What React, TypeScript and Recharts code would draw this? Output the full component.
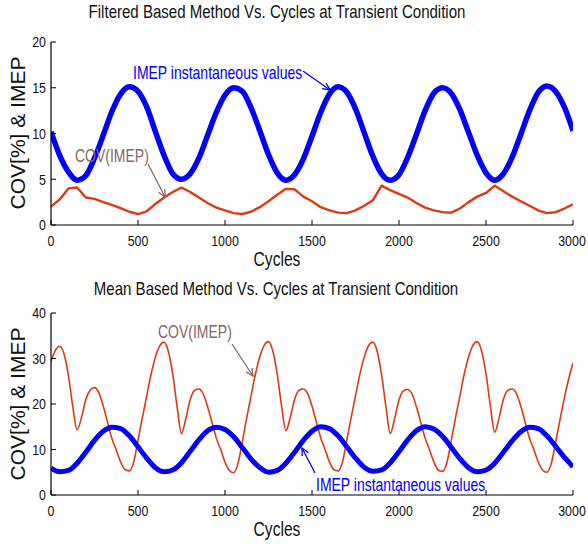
import { Line, LineChart, XAxis, YAxis } from "recharts";

const FONT = "'Liberation Sans', Arial, sans-serif";
const SQUEEZE = 0.8; // reference uses a narrow Helvetica

const cycleTicks = [0, 500, 1000, 1500, 2000, 2500, 3000];
const filteredTicks = [0, 5, 10, 15, 20];
const meanTicks = [0, 10, 20, 30, 40];

// top panel, read every 50 cycles (0..3000)
const filteredImep = [
  10.2, 7.6, 5.8, 4.9, 5.4, 7.3, 9.8, 12.4, 14.3, 15.1, 14.6, 12.9,
  10.2, 7.6, 5.6, 5.0, 5.6, 7.3, 9.8, 12.3, 14.2, 15.0, 14.6, 12.8,
  10.3, 7.7, 5.7, 4.9, 5.5, 7.2, 9.7, 12.3, 14.3, 15.1, 14.5, 12.7,
  10.1, 7.5, 5.6, 4.9, 5.5, 7.4, 9.9, 12.5, 14.4, 15.0, 14.4, 12.6,
  10.1, 7.6, 5.7, 4.9, 5.6, 7.4, 9.9, 12.5, 14.5, 15.2, 14.6, 12.9,
  10.3,
];
const filteredCov = [
  2.0, 2.8, 4.0, 4.1, 3.0, 2.85, 2.5, 2.2, 1.85, 1.45, 1.2, 1.5,
  2.3, 3.0, 3.6, 4.1, 3.6, 3.0, 2.4, 1.9, 1.6, 1.3, 1.2, 1.45,
  1.95, 2.6, 3.3, 3.95, 3.9, 3.1, 2.6, 1.95, 1.6, 1.35, 1.3, 1.6,
  2.1, 2.7, 4.3, 3.8, 3.4, 3.0, 2.4, 1.9, 1.6, 1.4, 1.35, 1.8,
  2.5, 3.1, 3.5, 4.3, 3.7, 3.1, 2.6, 2.1, 1.6, 1.3, 1.4, 1.8,
  2.25,
];

// bottom panel, IMEP read every 50 cycles
const meanImep = [
  5.9, 5.1, 5.4, 7.0, 9.4, 12.0, 14.0, 14.9, 14.6, 13.0, 10.6, 8.1,
  6.0, 5.1, 5.5, 7.1, 9.6, 12.1, 14.1, 14.9, 14.4, 12.8, 10.4, 7.9,
  6.0, 5.0, 5.4, 7.0, 9.4, 12.0, 14.0, 15.0, 14.6, 13.0, 10.6, 8.1,
  6.1, 5.2, 5.5, 7.1, 9.5, 12.1, 14.1, 15.0, 14.5, 12.9, 10.5, 8.0,
  6.0, 5.1, 5.5, 7.0, 9.4, 11.9, 13.9, 14.9, 14.6, 13.0, 10.7, 8.3,
  6.2,
];
// bottom panel, COV read every 25 cycles
const meanCov = [
  29.3, 31.8,
  32.7, 31.0, 26.3, 19.5, 14.3, 17.0, 21.0, 23.0, 23.6, 22.5, 19.6, 16.0,
  12.4, 9.9, 7.3, 5.6, 5.3, 7.2, 12.0, 17.0, 21.8, 26.5, 30.3, 32.8,
  33.6, 31.5, 26.5, 19.3, 13.5, 16.8, 21.0, 23.0, 23.3, 22.2, 19.4, 16.0,
  12.5, 10.0, 7.2, 5.4, 4.9, 7.0, 11.8, 17.0, 21.8, 26.6, 30.4, 32.9,
  33.7, 31.6, 26.6, 19.6, 14.1, 17.0, 21.0, 23.0, 23.3, 22.3, 19.5, 16.1,
  12.6, 10.0, 7.3, 5.6, 5.3, 7.2, 12.0, 17.0, 21.8, 26.5, 30.3, 32.8,
  33.6, 31.5, 26.4, 19.4, 13.5, 16.8, 20.9, 22.9, 23.2, 22.2, 19.4, 16.0,
  12.5, 10.0, 7.3, 5.5, 5.2, 7.1, 11.9, 17.0, 21.8, 26.6, 30.4, 32.9,
  33.7, 31.6, 26.6, 19.6, 13.8, 16.9, 21.0, 23.0, 23.3, 22.3, 19.5, 16.0,
  12.5, 10.0, 7.3, 5.5, 5.0, 6.9, 11.6, 16.5, 21.3, 25.5, 29.0,
];

const toRows = (values: number[], step: number) =>
  values.map((value, i) => ({ cycle: i * step, value }));

const BLUE = "#0000ff";
const RED = "#de3a12";
const BROWN = "#8c6464";

// narrow text: scale horizontally around the anchor point
function Narrow({ x, y, size, anchor = "start", fill = "#111", dy, children }: any) {
  return (
    <text transform={`translate(${x},${y}) scale(${SQUEEZE},1)`} fontSize={size} fontFamily={FONT}
      textAnchor={anchor} fill={fill} dy={dy}>
      {children}
    </text>
  );
}

const XTick = (props: any) => (
  <Narrow x={props.x} y={props.y} size={15.5} anchor="middle" dy="0.71em">{props.payload.value}</Narrow>
);
const YTick = (props: any) => (
  <Narrow x={props.x} y={props.y} size={15.5} anchor="end" dy="0.35em">{props.payload.value}</Narrow>
);

type PanelProps = {
  top: number;
  yMax: number;
  yTicks: number[];
  imep: { cycle: number; value: number }[];
  cov: { cycle: number; value: number }[];
  imepWidth: number;
  covWidth: number;
  covType: "linear" | "monotone";
  marginTop: number;
  marginBottom: number;
};

function Panel(p: PanelProps) {
  const axisLine = { stroke: "#000", strokeWidth: 1.2 };
  return (
    <div style={{ position: "absolute", left: 0, top: p.top }}>
      <LineChart width={588} height={272} margin={{ top: p.marginTop, right: 15, bottom: p.marginBottom, left: 0 }}>
        <XAxis type="number" dataKey="cycle" domain={[0, 3000]} ticks={cycleTicks} height={30}
          tickSize={-5} tickMargin={15} tick={XTick} axisLine={axisLine} tickLine={{ stroke: "#000" }} allowDataOverflow />
        <XAxis xAxisId="top" orientation="top" type="number" dataKey="cycle" domain={[0, 3000]} ticks={cycleTicks}
          height={0} tickSize={-5} tick={false} axisLine={axisLine} tickLine={{ stroke: "#000" }} allowDataOverflow />
        <YAxis type="number" domain={[0, p.yMax]} ticks={p.yTicks} width={51} tickSize={-5} tickMargin={10}
          tick={YTick} axisLine={axisLine} tickLine={{ stroke: "#000" }} allowDataOverflow />
        <YAxis yAxisId="right" orientation="right" type="number" domain={[0, p.yMax]} ticks={p.yTicks} width={0}
          tickSize={-5} tick={false} axisLine={axisLine} tickLine={{ stroke: "#000" }} allowDataOverflow />
        <Line data={p.cov} dataKey="value" type={p.covType} stroke={RED} strokeWidth={p.covWidth}
          dot={false} activeDot={false} isAnimationActive={false} strokeLinejoin="round" />
        <Line data={p.imep} dataKey="value" type="monotone" stroke={BLUE} strokeWidth={p.imepWidth}
          dot={false} activeDot={false} isAnimationActive={false} strokeLinejoin="round" />
      </LineChart>
    </div>
  );
}

function Arrow({ x1, y1, x2, y2, color }: { x1: number; y1: number; x2: number; y2: number; color: string }) {
  const a = Math.atan2(y2 - y1, x2 - x1);
  const len = 8;
  const spread = 0.45;
  const ax = x2 - len * Math.cos(a - spread);
  const ay = y2 - len * Math.sin(a - spread);
  const bx = x2 - len * Math.cos(a + spread);
  const by = y2 - len * Math.sin(a + spread);
  return (
    <g stroke={color} strokeWidth={1.3} fill="none">
      <line x1={x1} y1={y1} x2={x2} y2={y2} />
      <polyline points={`${ax},${ay} ${x2},${y2} ${bx},${by}`} />
    </g>
  );
}

export default function App() {
  return (
    <div style={{ position: "absolute", left: 0, top: 0, width: 588, height: 544, background: "#fff" }}>
      <Panel top={0} yMax={20} yTicks={filteredTicks} imep={toRows(filteredImep, 50)} cov={toRows(filteredCov, 50)}
        imepWidth={5.5} covWidth={2.4} covType="linear" marginTop={42} marginBottom={17} />
      <Panel top={272} yMax={40} yTicks={meanTicks} imep={toRows(meanImep, 50)} cov={toRows(meanCov, 25)}
        imepWidth={5} covWidth={1.6} covType="monotone" marginTop={41} marginBottom={19} />
      <svg width={588} height={544} style={{ position: "absolute", left: 0, top: 0, pointerEvents: "none" }}>
        <Narrow x={277} y={18} size={18.8} anchor="middle">Filtered Based Method Vs. Cycles at Transient Condition</Narrow>
        <Narrow x={276} y={295} size={18.8} anchor="middle">Mean Based Method Vs. Cycles at Transient Condition</Narrow>
        <Narrow x={277} y={266} size={19.5} anchor="middle">Cycles</Narrow>
        <Narrow x={277} y={536} size={19.5} anchor="middle">Cycles</Narrow>
        <g fontFamily={FONT} fontSize={21} fill="#111" textAnchor="middle">
          <text transform="translate(25,133) rotate(-90)">COV[%] &amp; IMEP</text>
          <text transform="translate(25,404) rotate(-90)">COV[%] &amp; IMEP</text>
        </g>
        <Narrow x={133} y={79} size={17.5} fill={BLUE}>IMEP instantaneous values</Narrow>
        <Narrow x={75} y={162} size={17.5} fill={BROWN}>COV(IMEP)</Narrow>
        <Narrow x={158} y={338} size={17.5} fill={BROWN}>COV(IMEP)</Narrow>
        <Narrow x={316} y={491} size={17.5} fill={BLUE}>IMEP instantaneous values</Narrow>
        <Arrow x1={303} y1={71} x2={330} y2={90} color={BLUE} />
        <Arrow x1={148} y1={164} x2={165} y2={197} color={BROWN} />
        <Arrow x1={232} y1={344} x2={253} y2={376} color={BROWN} />
        <Arrow x1={315} y1={473} x2={302} y2={448} color={BLUE} />
      </svg>
    </div>
  );
}
